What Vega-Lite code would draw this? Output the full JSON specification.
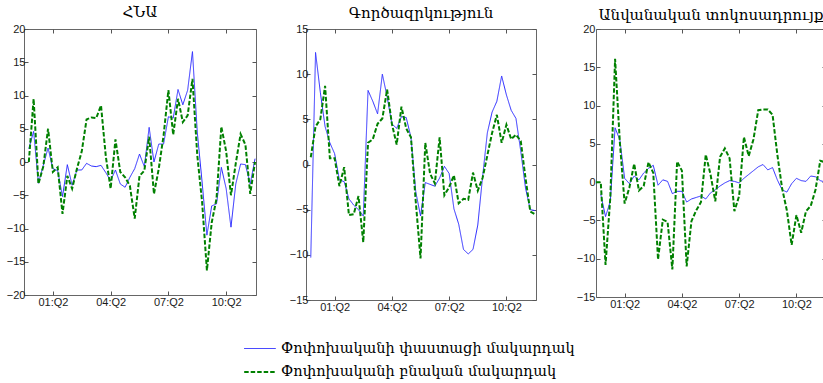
{
  "$schema": "https://vega.github.io/schema/vega-lite/v6.json",
  "padding": {"left": 5, "top": 4, "right": 0, "bottom": 0},
  "background": "white",
  "spacing": 38,
  "datasets": {
    "gdp": [
      {"t":0,"a":2.0,"n":0},{"t":1,"a":4.6,"n":9.5},{"t":2,"a":-3.2,"n":-3.3},{"t":3,"a":-0.5,"n":-0.7},
      {"t":4,"a":2.1,"n":5.0},{"t":5,"a":-1.0,"n":-1.5},{"t":6,"a":-1.3,"n":-0.8},{"t":7,"a":-5.2,"n":-7.8},
      {"t":8,"a":-0.4,"n":-2.1},{"t":9,"a":-3.5,"n":-4.0},{"t":10,"a":-1.2,"n":-1.0},{"t":11,"a":-1.2,"n":1.6},
      {"t":12,"a":-0.2,"n":6.4},{"t":13,"a":-0.6,"n":6.7},{"t":14,"a":-0.7,"n":6.6},{"t":15,"a":-0.5,"n":8.5},
      {"t":16,"a":-1.6,"n":0.8},{"t":17,"a":-2.8,"n":-4.0},{"t":18,"a":-1.2,"n":3.4},{"t":19,"a":-3.3,"n":-1.5},
      {"t":20,"a":-3.8,"n":-2.3},{"t":21,"a":-2.3,"n":-3.6},{"t":22,"a":-1.0,"n":-8.5},{"t":23,"a":1.2,"n":-2.1},
      {"t":24,"a":-0.7,"n":-1.3},{"t":25,"a":5.2,"n":3.8},{"t":26,"a":0.0,"n":-4.8},{"t":27,"a":2.7,"n":-1.0},
      {"t":28,"a":2.7,"n":4.0},{"t":29,"a":6.8,"n":10.8},{"t":30,"a":6.6,"n":4.1},{"t":31,"a":10.9,"n":9.5},
      {"t":32,"a":8.6,"n":6.0},{"t":33,"a":10.8,"n":7.0},{"t":34,"a":16.6,"n":12.5},{"t":35,"a":4.5,"n":1.0},
      {"t":36,"a":-3.0,"n":-6.0},{"t":37,"a":-11.0,"n":-16.3},{"t":38,"a":-6.6,"n":-9.1},{"t":39,"a":-6.3,"n":-5.5},
      {"t":40,"a":-0.8,"n":5.3},{"t":41,"a":-4.0,"n":1.6},{"t":42,"a":-9.8,"n":-5.0},{"t":43,"a":-3.3,"n":-0.2},
      {"t":44,"a":-0.3,"n":4.2},{"t":45,"a":-0.4,"n":2.6},{"t":46,"a":-3.3,"n":-4.8},{"t":47,"a":0.5,"n":0}
    ],
    "unemp": [
      {"t":0,"a":-10.3,"n":0.8},{"t":1,"a":12.4,"n":4.2},{"t":2,"a":8.0,"n":5.0},{"t":3,"a":4.2,"n":8.7},
      {"t":4,"a":2.4,"n":0.7},{"t":5,"a":1.2,"n":0.7},{"t":6,"a":-1.7,"n":-2.4},{"t":7,"a":-1.9,"n":-0.3},
      {"t":8,"a":-3.8,"n":-5.6},{"t":9,"a":-4.5,"n":-5.5},{"t":10,"a":-5.0,"n":-3.5},{"t":11,"a":-5.7,"n":-8.6},
      {"t":12,"a":8.2,"n":2.4},{"t":13,"a":7.0,"n":2.8},{"t":14,"a":5.6,"n":4.5},{"t":15,"a":10.0,"n":5.1},
      {"t":16,"a":7.5,"n":8.3},{"t":17,"a":4.5,"n":4.5},{"t":18,"a":4.0,"n":2.2},{"t":19,"a":5.3,"n":6.4},
      {"t":20,"a":5.2,"n":4.0},{"t":21,"a":3.0,"n":3.0},{"t":22,"a":-3.0,"n":-4.1},{"t":23,"a":-5.7,"n":-10.4},
      {"t":24,"a":-2.0,"n":2.4},{"t":25,"a":-2.2,"n":-1.0},{"t":26,"a":-2.4,"n":-2.1},{"t":27,"a":-1.5,"n":3.0},
      {"t":28,"a":-0.2,"n":-3.4},{"t":29,"a":-1.0,"n":-2.5},{"t":30,"a":-4.9,"n":-1.2},{"t":31,"a":-6.6,"n":-4.3},
      {"t":32,"a":-9.4,"n":-3.8},{"t":33,"a":-9.9,"n":-3.9},{"t":34,"a":-9.4,"n":-0.9},{"t":35,"a":-6.7,"n":-2.9},
      {"t":36,"a":-1.4,"n":-1.5},{"t":37,"a":3.5,"n":1.0},{"t":38,"a":5.8,"n":3.5},{"t":39,"a":7.0,"n":5.5},
      {"t":40,"a":9.8,"n":2.4},{"t":41,"a":7.7,"n":4.4},{"t":42,"a":6.0,"n":2.8},{"t":43,"a":5.1,"n":3.3},
      {"t":44,"a":1.5,"n":2.6},{"t":45,"a":-2.6,"n":-1.5},{"t":46,"a":-5.0,"n":-5.2},{"t":47,"a":-5.1,"n":-5.5}
    ],
    "rate": [
      {"t":-1,"a":null,"n":0},
      {"t":0,"a":-1.6,"n":0},{"t":1,"a":-4.5,"n":-10.8},{"t":2,"a":-2.5,"n":-2.0},{"t":3,"a":7.1,"n":16.1},
      {"t":4,"a":5.5,"n":5.2},{"t":5,"a":0.5,"n":-2.8},{"t":6,"a":-0.2,"n":-0.7},{"t":7,"a":0.8,"n":2.4},
      {"t":8,"a":0.3,"n":-1.1},{"t":9,"a":1.2,"n":-0.5},{"t":10,"a":1.8,"n":2.6},{"t":11,"a":2.2,"n":1.2},
      {"t":12,"a":-0.4,"n":-10.1},{"t":13,"a":0.3,"n":-4.9},{"t":14,"a":0.1,"n":-5.2},{"t":15,"a":-1.5,"n":-11.4},
      {"t":16,"a":-1.2,"n":2.7},{"t":17,"a":-1.2,"n":1.5},{"t":18,"a":-2.6,"n":-11.0},{"t":19,"a":-2.2,"n":-5.1},
      {"t":20,"a":-2.0,"n":-3.7},{"t":21,"a":-1.8,"n":-2.6},{"t":22,"a":-2.2,"n":3.6},{"t":23,"a":-1.4,"n":1.0},
      {"t":24,"a":-1.0,"n":-2.5},{"t":25,"a":-0.5,"n":3.3},{"t":26,"a":-0.1,"n":4.4},{"t":27,"a":0.2,"n":3.1},
      {"t":28,"a":0.1,"n":-3.8},{"t":29,"a":-0.1,"n":-1.8},{"t":30,"a":0.5,"n":5.9},{"t":31,"a":1.0,"n":3.4},
      {"t":32,"a":1.5,"n":5.6},{"t":33,"a":2.0,"n":9.4},{"t":34,"a":2.3,"n":9.5},{"t":35,"a":1.6,"n":9.5},
      {"t":36,"a":1.9,"n":8.8},{"t":37,"a":0.3,"n":3.6},{"t":38,"a":-1.0,"n":-0.8},{"t":39,"a":-1.3,"n":-3.7},
      {"t":40,"a":-0.2,"n":-8.2},{"t":41,"a":0.5,"n":-4.3},{"t":42,"a":0.2,"n":-6.6},{"t":43,"a":0.1,"n":-3.8},
      {"t":44,"a":0.8,"n":-3.1},{"t":45,"a":0.7,"n":-1.0},{"t":46,"a":0.2,"n":2.8},{"t":47,"a":0.0,"n":2.6}
    ]
  },
  "hconcat": [
    {
      "spacing": 31,
      "hconcat": [
        {
          "width": 232, "height": 266,
          "title": {"text": "ՀՆԱ", "offset": 3},
          "data": {"name": "gdp"},
          "transform": [{"fold": ["a", "n"], "as": ["s", "v"]}],
          "layer": [
            {
              "transform": [{"filter": "datum.s === 'a'"}],
              "mark": {"type": "line", "clip": true},
              "encoding": {
                "x": {"field": "t", "type": "quantitative", "scale": {"domain": [-1, 47.2], "nice": false, "zero": false},
                      "axis": {"orient": "bottom", "values": [5, 17, 29, 41], "title": null}},
                "y": {"field": "v", "type": "quantitative", "scale": {"domain": [-20, 20], "nice": false},
                      "axis": {"orient": "left", "values": [-20, -15, -10, -5, 0, 5, 10, 15, 20], "title": null, "labelPadding": 3}},
                "color": {"field": "s", "type": "nominal", "scale": {"domain": ["a", "n"], "range": ["#2a2aff", "#008000"]},
                          "legend": {"orient": "none", "legendX": 219, "legendY": 303, "title": null,
                                     "labelExpr": "datum.value === 'a' ? 'Փոփոխականի փաստացի մակարդակ' : 'Փոփոխականի բնական մակարդակ'"}},
                "strokeDash": {"field": "s", "type": "nominal", "scale": {"domain": ["a", "n"], "range": [[1, 0], [4.5, 2]]}},
                "strokeWidth": {"field": "s", "type": "nominal", "scale": {"domain": ["a", "n"], "range": [1, 2]}}
              }
            },
            {
              "transform": [{"filter": "datum.s === 'n'"}],
              "mark": {"type": "line", "clip": true},
              "encoding": {
                "x": {"field": "t", "type": "quantitative", "scale": {"domain": [-1, 47.2], "nice": false, "zero": false},
                      "axis": {"orient": "top", "values": [5, 17, 29, 41], "labels": false, "title": null}},
                "y": {"field": "v", "type": "quantitative", "scale": {"domain": [-20, 20], "nice": false},
                      "axis": {"orient": "right", "values": [-20, -15, -10, -5, 0, 5, 10, 15, 20], "labels": false, "title": null, "minExtent": 0}},
                "color": {"field": "s", "type": "nominal"},
                "strokeDash": {"field": "s", "type": "nominal"},
                "strokeWidth": {"field": "s", "type": "nominal"}
              }
            }
          ],
          "resolve": {"axis": {"x": "independent", "y": "independent"}}
        },
        {
          "width": 230, "height": 271,
          "title": {"text": "Գործազրկություն", "offset": 2.5},
          "data": {"name": "unemp"},
          "transform": [{"fold": ["a", "n"], "as": ["s", "v"]}],
          "layer": [
            {
              "transform": [{"filter": "datum.s === 'a'"}],
              "mark": {"type": "line", "clip": true},
              "encoding": {
                "x": {"field": "t", "type": "quantitative", "scale": {"domain": [-1, 47.2], "nice": false, "zero": false},
                      "axis": {"orient": "bottom", "values": [5, 17, 29, 41], "title": null}},
                "y": {"field": "v", "type": "quantitative", "scale": {"domain": [-15, 15], "nice": false},
                      "axis": {"orient": "left", "values": [-15, -10, -5, 0, 5, 10, 15], "title": null, "labelPadding": 2}},
                "color": {"field": "s", "type": "nominal"},
                "strokeDash": {"field": "s", "type": "nominal"},
                "strokeWidth": {"field": "s", "type": "nominal"}
              }
            },
            {
              "transform": [{"filter": "datum.s === 'n'"}],
              "mark": {"type": "line", "clip": true},
              "encoding": {
                "x": {"field": "t", "type": "quantitative", "scale": {"domain": [-1, 47.2], "nice": false, "zero": false},
                      "axis": {"orient": "top", "values": [5, 17, 29, 41], "labels": false, "title": null}},
                "y": {"field": "v", "type": "quantitative", "scale": {"domain": [-15, 15], "nice": false},
                      "axis": {"orient": "right", "values": [-15, -10, -5, 0, 5, 10, 15], "labels": false, "title": null, "minExtent": 0}},
                "color": {"field": "s", "type": "nominal"},
                "strokeDash": {"field": "s", "type": "nominal"},
                "strokeWidth": {"field": "s", "type": "nominal"}
              }
            }
          ],
          "resolve": {"axis": {"x": "independent", "y": "independent"}}
        }
      ]
    },
    {
      "width": 230, "height": 268,
      "title": {"text": "Անվանական տոկոսադրույք", "offset": 0, "fontSize": 15},
      "data": {"name": "rate"},
      "transform": [{"fold": ["a", "n"], "as": ["s", "v"]}],
      "layer": [
        {
          "transform": [{"filter": "datum.s === 'a'"}],
          "mark": {"type": "line", "clip": true},
          "encoding": {
            "x": {"field": "t", "type": "quantitative", "scale": {"domain": [-1, 47.2], "nice": false, "zero": false},
                  "axis": {"orient": "bottom", "values": [5, 17, 29, 41], "title": null}},
            "y": {"field": "v", "type": "quantitative", "scale": {"domain": [-15, 20], "nice": false},
                  "axis": {"orient": "left", "values": [-15, -10, -5, 0, 5, 10, 15, 20], "title": null, "labelPadding": 5}},
            "color": {"field": "s", "type": "nominal"},
            "strokeDash": {"field": "s", "type": "nominal"},
            "strokeWidth": {"field": "s", "type": "nominal"}
          }
        },
        {
          "transform": [{"filter": "datum.s === 'n'"}],
          "mark": {"type": "line", "clip": true},
          "encoding": {
            "x": {"field": "t", "type": "quantitative", "scale": {"domain": [-1, 47.2], "nice": false, "zero": false},
                  "axis": {"orient": "top", "values": [5, 17, 29, 41], "labels": false, "title": null}},
            "y": {"field": "v", "type": "quantitative", "scale": {"domain": [-15, 20], "nice": false},
                  "axis": {"orient": "right", "values": [-15, -10, -5, 0, 5, 10, 15, 20], "labels": false, "title": null, "minExtent": 0}},
            "color": {"field": "s", "type": "nominal"},
            "strokeDash": {"field": "s", "type": "nominal"},
            "strokeWidth": {"field": "s", "type": "nominal"}
          }
        }
      ],
      "resolve": {"axis": {"x": "independent", "y": "independent"}}
    }
  ],
  "config": {
    "view": {"stroke": "#666666", "strokeWidth": 1},
    "title": {"font": "DejaVu Serif", "fontSize": 15, "fontWeight": "normal", "color": "#000000", "anchor": "middle", "baseline": "alphabetic", "frame": "group"},
    "axis": {
      "grid": false, "domain": false,
      "labelFont": "Liberation Sans", "labelFontSize": 11, "labelColor": "#1a1a1a",
      "tickColor": "#555555", "tickSize": -4, "tickWidth": 1, "labelPadding": 3
    },
    "axisX": {
      "labelPadding": 5,
      "labelExpr": "datum.value === 5 ? '01:Q2' : datum.value === 17 ? '04:Q2' : datum.value === 29 ? '07:Q2' : datum.value === 41 ? '10:Q2' : datum.label"
    },
    "legend": {
      "labelFont": "DejaVu Serif", "labelFontSize": 14.5, "labelColor": "#000000", "labelLimit": 500,
      "symbolType": "stroke", "symbolSize": 1000, "rowPadding": -5, "labelOffset": 4
    }
  }
}
